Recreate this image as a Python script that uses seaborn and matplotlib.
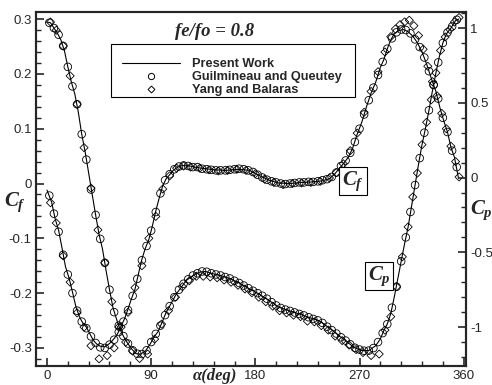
import seaborn as sns
import matplotlib.pyplot as plt
from matplotlib.lines import Line2D
from matplotlib.patches import Rectangle
from matplotlib.ticker import MultipleLocator, FuncFormatter

# Present Work (lines)
line_alpha_cf = [0, 4, 7, 10, 13, 16, 19, 22, 25, 28, 31, 34, 37, 40, 43, 46, 50, 54, 58, 61,
                 64, 67, 70, 73, 76, 79, 82, 85, 88, 91, 94, 97, 100, 103, 106, 109, 113, 117,
                 123, 130, 137, 145, 155, 165, 175, 183, 192, 200, 210, 220, 230, 238, 244,
                 248, 252, 256, 260, 264, 268, 272, 276, 280, 284, 288, 291, 294, 297, 300,
                 304, 308, 312, 316, 320, 324, 328, 332, 336, 340, 343, 346, 349, 352, 355.5]
line_cf = [-0.012, -0.034, -0.064, -0.085, -0.118, -0.152, -0.172, -0.198, -0.225, -0.243,
           -0.255, -0.262, -0.274, -0.286, -0.293, -0.297, -0.298, -0.292, -0.283, -0.274,
           -0.260, -0.247, -0.229, -0.210, -0.193, -0.165, -0.138, -0.118, -0.102, -0.078,
           -0.050, -0.026, -0.004, 0.009, 0.016, 0.024, 0.030, 0.033, 0.032, 0.029, 0.027,
           0.025, 0.024, 0.026, 0.024, 0.015, 0.006, 0.001, 0.000, 0.002, 0.003, 0.005,
           0.009, 0.016, 0.026, 0.036, 0.047, 0.064, 0.090, 0.112, 0.140, 0.165, 0.185,
           0.212, 0.226, 0.246, 0.262, 0.273, 0.279, 0.281, 0.277, 0.269, 0.257, 0.240,
           0.218, 0.192, 0.168, 0.134, 0.113, 0.094, 0.066, 0.048, 0.010]

line_alpha_cp = [0, 3, 6, 9, 12, 15, 18, 21, 24, 27, 30, 33, 36, 39, 42, 45, 48, 51, 54, 57,
                 60, 63, 66, 69, 73, 77, 81, 85, 89, 93, 96, 100, 103, 107, 112, 116, 120,
                 126, 132, 137, 143, 150, 158, 166, 175, 183, 192, 200, 209, 218, 226, 235,
                 241, 247, 252, 258, 265, 272, 278, 284, 288, 291, 294, 297, 300, 303, 306,
                 309, 312, 315, 318, 321, 324, 327, 330, 333, 336, 339, 342, 345, 349, 353, 355.7]
line_cp = [1.04, 1.035, 1.00, 0.965, 0.92, 0.85, 0.74, 0.64, 0.56, 0.44, 0.29, 0.17, 0.03,
           -0.11, -0.25, -0.38, -0.48, -0.62, -0.75, -0.87, -0.945, -1.012, -1.06, -1.10,
           -1.145, -1.178, -1.18, -1.16, -1.115, -1.06, -1.03, -0.957, -0.90, -0.845, -0.775,
           -0.734, -0.69, -0.656, -0.632, -0.628, -0.642, -0.655, -0.675, -0.705, -0.745,
           -0.778, -0.823, -0.865, -0.89, -0.912, -0.934, -0.957, -0.99, -1.023, -1.057,
           -1.09, -1.135, -1.157, -1.157, -1.124, -1.079, -1.023, -0.979, -0.91, -0.80,
           -0.68, -0.56, -0.44, -0.33, -0.19, -0.05, 0.09, 0.22, 0.33, 0.45, 0.58, 0.70,
           0.81, 0.90, 0.96, 1.00, 1.05, 1.06]

# Guilmineau and Queutey (circles)
gq_alpha = [2, 6, 10, 14, 18, 22, 26, 30, 34, 38, 42, 46, 50, 54, 58, 62, 66, 70, 74, 78,
            82, 86, 90, 94, 98, 102, 106, 110, 114, 118, 122, 126, 130, 134, 138, 142, 146,
            150, 154, 158, 162, 166, 170, 174, 178, 182, 186, 190, 194, 198, 202, 206, 210,
            214, 218, 222, 226, 230, 234, 238, 242, 246, 250, 254, 258, 262, 266, 270, 274,
            278, 282, 286, 290, 294, 298, 302, 306, 310, 314, 318, 322, 326, 330, 334, 338,
            342, 346, 350, 354]
gq_cf = [-0.022, -0.055, -0.088, -0.130, -0.166, -0.200, -0.232, -0.252, -0.264, -0.279,
         -0.291, -0.299, -0.300, -0.294, -0.285, -0.271, -0.252, -0.231, -0.205, -0.174,
         -0.140, -0.114, -0.086, -0.052, -0.018, 0.006, 0.017, 0.026, 0.031, 0.033, 0.032,
         0.030, 0.030, 0.027, 0.026, 0.025, 0.024, 0.024, 0.024, 0.025, 0.026, 0.027, 0.026,
         0.024, 0.021, 0.016, 0.011, 0.007, 0.004, 0.002, 0.000, -0.001, 0.000, 0.001,
         0.002, 0.002, 0.003, 0.003, 0.004, 0.006, 0.008, 0.012, 0.020, 0.032, 0.042,
         0.056, 0.076, 0.100, 0.126, 0.152, 0.175, 0.198, 0.222, 0.246, 0.265, 0.276,
         0.281, 0.280, 0.274, 0.263, 0.249, 0.230, 0.205, 0.180, 0.155, 0.120, 0.094,
         0.060, 0.030]
gq_cp = [1.035, 1.00, 0.955, 0.88, 0.74, 0.61, 0.49, 0.29, 0.12, -0.08, -0.25, -0.41, -0.57,
         -0.75, -0.90, -0.99, -1.06, -1.11, -1.155, -1.178, -1.18, -1.155, -1.10, -1.045,
         -0.99, -0.92, -0.86, -0.80, -0.75, -0.71, -0.68, -0.655, -0.64, -0.628, -0.63,
         -0.64, -0.648, -0.655, -0.665, -0.675, -0.69, -0.705, -0.722, -0.74, -0.757,
         -0.773, -0.79, -0.81, -0.833, -0.855, -0.872, -0.883, -0.892, -0.902, -0.912,
         -0.922, -0.934, -0.945, -0.955, -0.972, -0.997, -1.02, -1.043, -1.068, -1.09,
         -1.115, -1.138, -1.15, -1.158, -1.157, -1.14, -1.10, -1.04, -0.98, -0.87, -0.73,
         -0.56, -0.40, -0.23, -0.05, 0.13, 0.30, 0.45, 0.62, 0.77, 0.90, 0.97, 1.01, 1.055]

# Yang and Balaras (diamonds)
yb_alpha_cf = [3, 8, 14, 20, 26, 32, 38, 45, 52, 58, 64, 70, 76, 82, 88, 94, 100, 106, 112,
               118, 124, 132, 140, 148, 156, 164, 172, 180, 188, 196, 204, 212, 220, 228,
               236, 244, 250, 256, 262, 268, 274, 280, 286, 292, 297, 301, 305, 309, 313,
               317, 321, 325, 329, 333, 337, 341, 345, 349, 353, 356]
yb_cf = [-0.035, -0.072, -0.132, -0.180, -0.236, -0.262, -0.296, -0.320, -0.314, -0.300,
         -0.262, -0.235, -0.190, -0.150, -0.100, -0.060, -0.010, 0.014, 0.028, 0.032,
         0.030, 0.028, 0.025, 0.023, 0.024, 0.026, 0.024, 0.018, 0.008, 0.002, -0.002,
         0.000, 0.001, 0.002, 0.004, 0.010, 0.020, 0.036, 0.060, 0.092, 0.130, 0.168,
         0.204, 0.240, 0.268, 0.282, 0.290, 0.295, 0.298, 0.288, 0.270, 0.245, 0.214,
         0.186, 0.160, 0.128, 0.100, 0.068, 0.040, 0.012]
yb_alpha_cp = [3, 8, 14, 20, 26, 32, 38, 44, 50, 56, 62, 68, 74, 80, 87, 93, 99, 105, 111,
               117, 123, 129, 135, 141, 147, 153, 159, 165, 171, 177, 183, 189, 195, 201,
               207, 213, 219, 225, 231, 237, 243, 249, 255, 261, 267, 273, 280, 287, 292,
               297, 302, 307, 312, 316, 320, 324, 328, 332, 336, 340, 344, 348, 352, 356]
yb_cp = [1.04, 0.985, 0.88, 0.68, 0.49, 0.20, -0.07, -0.35, -0.57, -0.83, -1.00, -1.10,
         -1.16, -1.21, -1.18, -1.08, -0.98, -0.89, -0.80, -0.73, -0.69, -0.66, -0.66,
         -0.665, -0.67, -0.685, -0.70, -0.72, -0.745, -0.77, -0.80, -0.83, -0.86, -0.89,
         -0.905, -0.92, -0.93, -0.96, -0.965, -0.99, -1.02, -1.06, -1.09, -1.12, -1.15,
         -1.17, -1.19, -1.18, -1.02, -0.93, -0.73, -0.53, -0.33, -0.13, 0.03, 0.22, 0.37,
         0.52, 0.70, 0.85, 0.94, 0.99, 1.04, 1.07]

sns.set_style("ticks")
plt.rcParams['font.family'] = ['Liberation Sans', 'DejaVu Sans']
plt.rcParams['mathtext.fontset'] = 'custom'
plt.rcParams['mathtext.it'] = 'Liberation Serif:italic:bold'
plt.rcParams['mathtext.rm'] = 'Liberation Serif:bold'

W, H = 492, 385
fig = plt.figure(figsize=(W / 100, H / 100), dpi=100)
ax = fig.add_axes([36 / W, 19 / H, 430 / W, 354 / H])
ax2 = ax.twinx()

circ = dict(marker='o', s=30, facecolor='none', edgecolor='black', linewidth=0.6)
diam = dict(marker='D', s=17, facecolor='none', edgecolor='black', linewidth=0.6)

sns.lineplot(x=line_alpha_cf, y=line_cf, ax=ax, color='black', lw=0.8)
sns.scatterplot(x=gq_alpha, y=gq_cf, ax=ax, **circ)
sns.scatterplot(x=yb_alpha_cf, y=yb_cf, ax=ax, **diam)

sns.lineplot(x=line_alpha_cp, y=line_cp, ax=ax2, color='black', lw=0.8)
sns.scatterplot(x=gq_alpha, y=gq_cp, ax=ax2, **circ)
sns.scatterplot(x=yb_alpha_cp, y=yb_cp, ax=ax2, **diam)

ax.set_xlim(-9.5, 362)
ax.set_ylim(-0.333, 0.313)
ax2.set_ylim(-1.26, 1.107)

fmt = FuncFormatter(lambda v, p: f'{round(v, 2) + 0.0:g}')
ax.xaxis.set_major_locator(MultipleLocator(90))
ax.xaxis.set_minor_locator(MultipleLocator(18))
ax.yaxis.set_major_locator(MultipleLocator(0.1))
ax.yaxis.set_minor_locator(MultipleLocator(0.02))
ax.yaxis.set_major_formatter(fmt)
ax2.yaxis.set_major_locator(MultipleLocator(0.5))
ax2.yaxis.set_minor_locator(MultipleLocator(0.1))
ax2.yaxis.set_major_formatter(fmt)

for a in (ax, ax2):
    a.tick_params(which='both', direction='in', labelsize=9.5, pad=3)
    a.tick_params(which='major', length=6, width=1.2)
    a.tick_params(which='minor', length=3.5, width=1)
    for lab in a.get_xticklabels() + a.get_yticklabels():
        lab.set_family(['Liberation Sans', 'DejaVu Sans'])
    for s in a.spines.values():
        s.set_linewidth(1.5)
        s.set_visible(True)
ax.set_xlabel('')
ax.set_ylabel('')
ax2.set_ylabel('')

fig.text(15 / W, 1 - 202 / H, r'$C_f$', fontsize=15, ha='center', va='center')
fig.text(481 / W, 1 - 210 / H, r'$C_p$', fontsize=15, ha='center', va='center')
fig.text(215 / W, 1 - 376 / H, 'α(deg)', family='Liberation Serif', style='italic',
         weight='bold', fontsize=12, ha='center', va='center')
fig.text(215 / W, 1 - 31 / H, 'fe/fo = 0.8', family='Liberation Serif', style='italic',
         weight='bold', fontsize=13.5, ha='center', va='center')

box = dict(boxstyle='square,pad=0.12', fc='white', ec='black', lw=0.8)
fig.text(353 / W, 1 - 181 / H, r'$C_f$', fontsize=15, ha='center', va='center', bbox=box)
fig.text(379 / W, 1 - 276 / H, r'$C_p$', fontsize=15, ha='center', va='center', bbox=box)

handles = [Line2D([], [], color='black', lw=0.8),
           Line2D([], [], marker='o', ls='', mfc='none', mec='black', ms=4.5, mew=0.7),
           Line2D([], [], marker='D', ls='', mfc='none', mec='black', ms=3.5, mew=0.7)]
labels = ['Present Work', 'Guilmineau and Queutey', 'Yang and Balaras']
ax2.legend(handles, labels, loc='upper left', bbox_to_anchor=(122 / W, 1 - 58 / H),
           bbox_transform=fig.transFigure, frameon=False, borderpad=0, borderaxespad=0,
           handlelength=4.5, handletextpad=0.95, labelspacing=0.08,
           prop={'family': ['Liberation Sans'], 'weight': 'bold', 'size': 9.2})
fig.patches.append(Rectangle((111 / W, 1 - 97 / H), 244 / W, 53 / H, transform=fig.transFigure,
                             fill=False, ec='black', lw=0.8))

fig.savefig('out.png', dpi=100)
